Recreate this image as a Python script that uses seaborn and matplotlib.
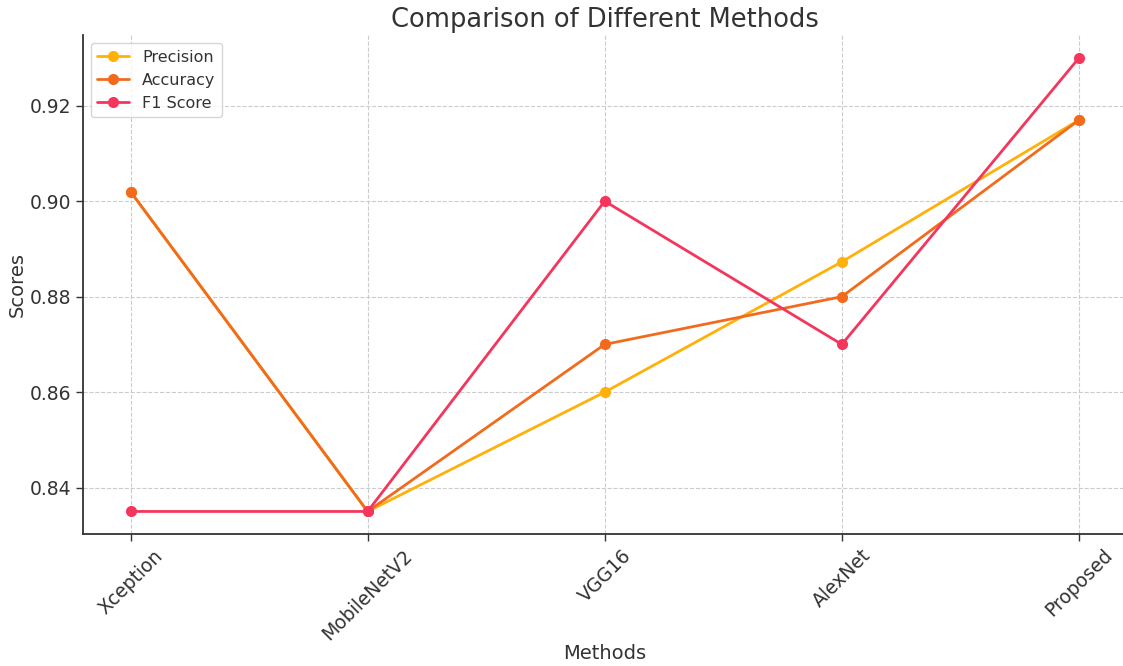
import matplotlib
matplotlib.use("Agg")
import matplotlib.pyplot as plt
import seaborn as sns
import pandas as pd

methods = ["Xception", "MobileNetV2", "VGG16", "AlexNet", "Proposed"]
precision = [0.902, 0.835, 0.860, 0.8873, 0.917]
accuracy = [0.902, 0.835, 0.870, 0.880, 0.917]
f1_score = [0.835, 0.835, 0.900, 0.870, 0.930]

series_names = ["Precision", "Accuracy", "F1 Score"]
colors = ["#FFB10A", "#F26B1D", "#F4365C"]

df = pd.DataFrame({"Method": methods * 3,
                   "Score": precision + accuracy + f1_score,
                   "Metric": [n for n in series_names for _ in methods]})

sns.set_theme(style="whitegrid")
plt.rcParams['font.family'] = ['DejaVu Sans']
plt.rcParams['text.color'] = '#333333'
plt.rcParams['axes.labelcolor'] = '#333333'
plt.rcParams['xtick.color'] = '#333333'
plt.rcParams['ytick.color'] = '#333333'

fig, ax = plt.subplots(figsize=(11.23, 6.66), dpi=100)
fig.subplots_adjust(left=0.074, right=1.003, top=0.947, bottom=0.198)

sns.lineplot(data=df, x="Method", y="Score", hue="Metric", palette=colors,
             marker="o", markersize=8, markeredgewidth=0, linewidth=2, ax=ax, sort=False)

ax.grid(True, linestyle="--", color="#cccccc", linewidth=0.8)
ax.set_facecolor("white")
for s in ["top", "right"]:
    ax.spines[s].set_visible(False)
for s in ["left", "bottom"]:
    ax.spines[s].set_color("#333333")
    ax.spines[s].set_linewidth(1.3)
ax.tick_params(axis="both", which="both", length=5, width=1, color="#333333", labelsize=13.5, bottom=True, left=True)
plt.setp(ax.get_xticklabels(), rotation=45)
ax.set_yticks([0.84, 0.86, 0.88, 0.90, 0.92])
ax.set_yticklabels(["0.84", "0.86", "0.88", "0.90", "0.92"])
ax.set_title("Comparison of Different Methods", fontsize=18.5, color="#333333")
ax.set_xlabel("Methods", fontsize=14, labelpad=0)
ax.set_ylabel("Scores", fontsize=14, labelpad=2)
leg = ax.legend(title=None, loc="upper left", fontsize=11.5, frameon=True)
leg.get_frame().set_edgecolor("#cccccc")

fig.savefig("out.png", dpi=100)
